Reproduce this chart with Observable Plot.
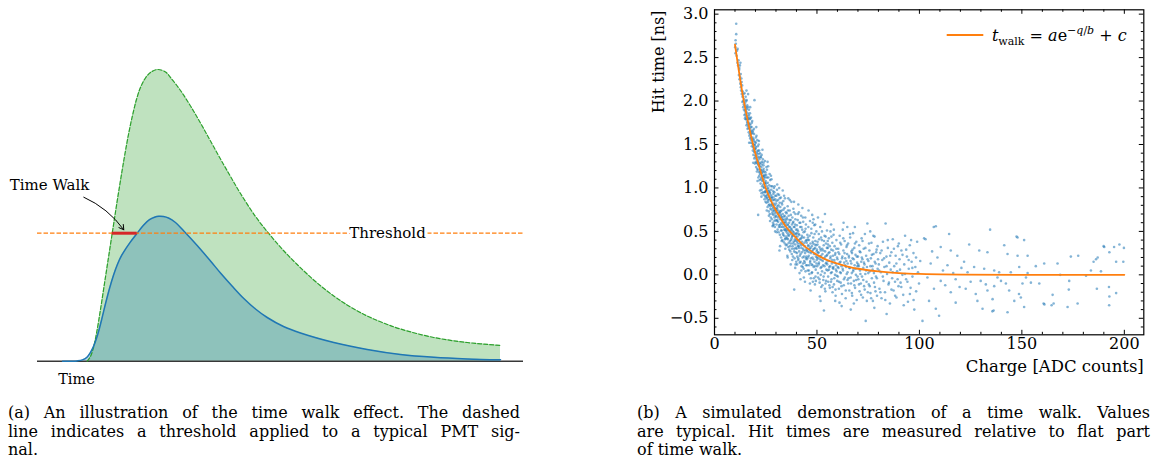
<!DOCTYPE html>
<html>
<head>
<meta charset="utf-8">
<script src="https://cdn.jsdelivr.net/npm/d3@7"></script>
<script src="https://cdn.jsdelivr.net/npm/@observablehq/plot@0.6"></script>
<style>
  html, body { margin: 0; padding: 0; background: #fff; }
  #page { position: relative; width: 1154px; height: 466px; overflow: hidden; font-family: "DejaVu Serif", "Liberation Serif", "DejaVu Sans", sans-serif; color: #000; }
  #left { position: absolute; left: 0; top: 0; }
  #right { position: absolute; left: 630px; top: 0; }
  .cap { position: absolute; font-size: 16px; line-height: 18.7px; }
  .cap div { white-space: nowrap; }
  .cap .j { text-align: justify; text-align-last: justify; }
</style>
</head>
<body>
<div id="page">
  <div id="left"></div>
  <div id="right"></div>
  <div class="cap" style="left:8px; top:404px; width:512px;">
    <div class="j">(a) An illustration of the time walk effect. The dashed</div>
    <div class="j">line indicates a threshold applied to a typical PMT sig-</div>
    <div>nal.</div>
  </div>
  <div class="cap" style="left:637px; top:404px; width:513px;">
    <div class="j">(b) A simulated demonstration of a time walk. Values</div>
    <div class="j">are typical. Hit times are measured relative to flat part</div>
    <div>of time walk.</div>
  </div>
</div>
<script>
// ---------------- Panel (a): illustrative PMT pulses (arbitrary units) ----------------
const largeSignalTime = [49.7, 53, 56, 59, 63, 67, 71, 75, 79, 83, 87, 91, 95, 99, 103, 108, 113, 120.3, 128, 133, 143, 153, 163, 173, 183, 193, 203, 218, 231.3, 246, 259.7, 278, 296.3, 313, 329.7, 346, 363, 396.3, 429.7, 463];
const largeSignalAmp  = [0, 4.7, 13.7, 27.7, 51.7, 77.7, 103.7, 129.7, 155.7, 180.7, 204.7, 226.7, 245.7, 261.7, 273.7, 283.2, 288.7, 291.7, 289.2, 283.7, 270.7, 255.2, 238.2, 220.2, 202.2, 184.7, 167.7, 144.7, 127.7, 110.7, 96.7, 79.7, 65.2, 54.2, 45.2, 38.2, 32.2, 23.7, 18.7, 15.7];
const smallSignalTime = [25, 39.7, 45, 50, 55, 60, 64, 68, 72, 76, 80, 84, 88, 93, 99.7, 106, 112, 117, 121.3, 126, 131, 138, 146.3, 159.7, 173, 183, 195, 206.3, 218, 229.7, 246, 263, 296.3, 329.7, 363, 396.3, 429.7, 463];
const smallSignalAmp  = [0, 0.3, 1.3, 4.5, 12.5, 26, 41, 57.4, 72.7, 86, 97, 105.5, 112, 119.3, 128, 136, 141.5, 144, 145, 144.7, 143.2, 138.7, 130.2, 115.7, 100.2, 88.2, 74.7, 62.7, 52.2, 43.7, 34.7, 28.2, 18.7, 11.7, 6.7, 3.9, 2.3, 1.4];
const thresholdLevel = 128;
const timeWalkStart = 74.7;   // large pulse crosses threshold
const timeWalkEnd = 99.7;     // small pulse crosses threshold
const timeAxisExtent = [0, 486];
const amplitudeExtent = [0, 291.7];
const annotationTimeWalk = { label: "Time Walk", x: -27.7, y: 175.8, arrowFrom: [46.3, 164], arrowTo: [86.3, 131.4] };
const annotationThreshold = { label: "Threshold", x: 350 };
const annotationTime = { label: "Time", x: 39, y: -18.3 };

// ---------------- Panel (b): simulated time walk ----------------
const fitCharge = [10, 12, 14, 16, 18, 20, 22, 25, 28, 30, 35, 40, 45, 50, 55, 60, 65, 70, 80, 90, 100, 120, 150, 200];
const fitTime   = [2.65, 2.33, 2.04, 1.80, 1.58, 1.39, 1.23, 1.00, 0.83, 0.74, 0.55, 0.42, 0.31, 0.23, 0.17, 0.13, 0.095, 0.07, 0.04, 0.02, 0.01, 0.003, 0.0, 0.0];
const xMajorTicks = [0, 50, 100, 150, 200];
const xMinorTicks = [10, 20, 30, 40, 60, 70, 80, 90, 110, 120, 130, 140, 160, 170, 180, 190];
const yMajorTicks = [-0.5, 0, 0.5, 1.0, 1.5, 2.0, 2.5, 3.0];
const yMinorTicks = [-0.6, -0.4, -0.3, -0.2, -0.1, 0.1, 0.2, 0.3, 0.4, 0.6, 0.7, 0.8, 0.9, 1.1, 1.2, 1.3, 1.4, 1.6, 1.7, 1.8, 1.9, 2.1, 2.2, 2.3, 2.4, 2.6, 2.7, 2.8, 2.9];
const xLabel = "Charge [ADC counts]";
const yLabel = "Hit time [ns]";
// hit samples as [charge, time] pairs
const hitPairs = [
 10.1,2.62, 10.2,2.55, 10.3,2.70, 10.4,2.66, 10.6,2.89, 10.6,2.77, 10.8,2.52, 11.0,2.58, 11.2,2.44, 11.3,2.60, 11.5,2.41, 11.7,2.47, 11.9,2.30, 12.1,2.38, 12.2,2.25, 12.4,2.41, 12.6,2.20, 12.8,2.31, 13.0,2.12, 13.1,2.26, 13.3,2.08, 13.5,2.18, 13.6,1.99, 13.8,2.11, 14.0,1.93, 14.1,2.08, 14.3,1.96, 14.5,2.02, 14.6,1.84, 14.8,1.95, 14.9,1.88,
 15.0,1.98, 15.1,1.85, 15.2,2.05, 15.3,1.79, 15.4,1.93, 15.5,1.88, 15.6,1.72, 15.7,2.01, 15.8,1.83, 15.9,1.76, 16.0,1.95, 16.1,1.68, 16.2,1.86, 16.3,1.79, 16.4,2.08, 16.5,1.71, 16.6,1.82, 16.7,1.64, 16.8,1.90, 16.9,1.75, 17.0,1.60, 17.1,1.79, 17.2,1.68, 17.3,1.86, 17.4,1.57, 17.5,1.73, 17.6,1.65, 17.7,1.52, 17.8,1.81, 17.9,1.62, 18.0,1.55, 18.1,1.70, 18.2,1.48, 18.3,1.63, 18.4,1.77, 18.5,1.51, 18.6,1.58, 18.7,1.43, 18.8,1.66, 18.9,1.50, 19.0,1.38, 19.1,1.56, 19.2,1.45, 19.3,1.62, 19.4,1.34, 19.5,2.01, 19.5,1.49, 19.6,1.41, 19.7,1.28, 19.8,1.53, 19.9,1.37, 15.6,2.12, 17.4,1.93, 18.9,1.29, 16.9,1.52,
 20.0,1.45, 20.1,1.30, 20.2,1.52, 20.3,1.24, 20.4,1.38, 20.5,1.60, 20.6,1.33, 20.7,1.19, 20.8,1.42, 20.9,1.28, 21.0,1.36, 21.1,1.48, 21.2,1.21, 21.3,1.30, 21.4,1.12, 21.5,1.39, 21.6,1.26, 21.7,1.54, 21.8,1.18, 21.9,1.33, 22.0,1.09, 22.1,1.25, 22.2,1.40, 22.3,1.16, 22.4,1.29, 22.5,1.05, 22.6,1.21, 22.7,1.35, 22.8,1.12, 22.9,1.24, 23.0,0.98, 23.1,1.17, 23.2,1.30, 23.3,1.08, 23.4,1.44, 23.5,1.13, 23.6,0.95, 23.7,1.20, 23.8,1.04, 23.9,1.26, 24.0,0.92, 24.1,1.10, 24.2,1.00, 24.3,1.19, 24.4,0.87, 24.5,1.05, 24.6,1.31, 24.7,0.96, 24.8,1.12, 24.9,0.84, 20.4,1.70, 21.0,1.08, 22.2,0.97, 23.0,1.38, 24.0,1.22, 20.9,1.55, 21.8,1.43, 22.9,0.90, 24.4,1.15, 23.6,1.33, 21.3,0.69,
 25.0,1.08, 25.1,0.91, 25.2,1.15, 25.3,0.97, 25.4,0.83, 25.5,1.02, 25.6,1.21, 25.7,0.89, 25.8,0.99, 25.9,0.78, 26.0,1.06, 26.1,0.93, 26.2,0.84, 26.3,1.12, 26.4,0.96, 26.5,0.73, 26.6,0.90, 26.7,1.03, 26.8,0.81, 26.9,0.94, 27.0,0.70, 27.1,0.87, 27.2,1.09, 27.3,0.79, 27.4,0.92, 27.5,0.66, 27.6,0.85, 27.7,0.98, 27.8,0.75, 27.9,0.88, 28.0,0.64, 28.1,0.81, 28.2,1.02, 28.3,0.72, 28.4,0.86, 28.5,0.60, 28.6,0.77, 28.7,0.93, 28.8,0.69, 28.9,0.82, 29.0,0.58, 29.1,0.74, 29.2,0.95, 29.3,0.66, 29.4,0.80, 29.5,0.55, 29.6,0.71, 29.7,0.87, 29.8,0.63, 29.9,0.76, 25.5,0.74, 26.2,1.25, 27.1,0.62, 27.8,1.10, 28.4,0.56, 29.0,1.00, 29.6,0.50, 26.9,1.16, 28.8,0.89, 25.9,1.30,
 30.0,0.82, 30.1,0.67, 30.2,0.91, 30.3,0.58, 30.4,0.75, 30.5,0.98, 30.6,0.63, 30.7,0.79, 30.8,0.52, 30.9,0.70, 31.0,0.86, 31.1,0.61, 31.2,0.74, 31.3,0.49, 31.4,0.68, 31.5,0.92, 31.6,0.57, 31.7,0.72, 31.8,0.83, 31.9,0.46, 32.0,0.64, 32.1,0.78, 32.2,0.55, 32.3,0.69, 32.4,0.89, 32.5,0.43, 32.6,0.60, 32.7,0.74, 32.8,0.51, 32.9,0.66, 33.0,0.81, 33.1,0.40, 33.2,0.58, 33.3,0.70, 33.4,0.48, 33.5,0.63, 33.6,0.85, 33.7,0.38, 33.8,0.55, 33.9,0.67, 34.0,0.45, 34.1,0.60, 34.2,0.77, 34.3,0.36, 34.4,0.52, 34.5,0.64, 34.6,0.42, 34.7,0.57, 34.8,0.72, 34.9,0.34, 30.6,1.04, 32.0,0.33, 33.3,0.97, 31.7,0.28, 34.4,0.88,
 35.0,0.60, 35.1,0.44, 35.2,0.71, 35.3,0.51, 35.4,0.35, 35.5,0.64, 35.6,0.48, 35.7,0.79, 35.8,0.41, 35.9,0.57, 36.0,0.32, 36.1,0.52, 36.2,0.68, 36.3,0.45, 36.4,0.60, 36.5,0.29, 36.6,0.50, 36.7,0.74, 36.8,0.39, 36.9,0.55, 37.0,0.27, 37.1,0.47, 37.2,0.63, 37.3,0.36, 37.4,0.53, 37.5,0.84, 37.6,0.42, 37.7,0.24, 37.8,0.58, 37.9,0.44, 38.0,0.66, 38.1,0.33, 38.2,0.50, 38.3,0.21, 38.4,0.46, 38.5,0.61, 38.6,0.38, 38.7,0.55, 38.8,0.84, 38.9,0.30, 39.0,0.47, 39.1,0.19, 39.2,0.41, 39.3,0.58, 39.4,0.35, 39.5,0.70, 39.6,0.26, 39.7,0.44, 39.8,0.52, 39.9,0.15, 36.0,0.88, 37.2,0.12, 38.5,0.76, 39.4,0.08, 35.7,0.20, 38.9,-0.17,
 40.0,0.48, 40.1,0.30, 40.2,0.57, 40.3,0.38, 40.4,0.21, 40.5,0.44, 40.6,0.63, 40.7,0.33, 40.8,0.50, 40.9,0.17, 41.0,0.40, 41.2,0.72, 41.3,0.27, 41.4,0.46, 41.6,0.14, 41.7,0.36, 41.8,0.55, 42.0,0.24, 42.1,0.42, 42.3,0.68, 42.4,0.31, 42.5,0.10, 42.7,0.38, 42.8,0.52, 43.0,0.20, 43.1,0.35, 43.3,0.61, 43.4,0.28, 43.5,0.07, 43.7,0.43, 43.8,0.16, 44.0,0.33, 44.1,0.50, 44.2,0.25, 44.4,0.04, 44.5,0.39, 44.6,0.58, 44.8,0.21, 44.9,0.30, 40.9,0.81, 41.5,0.02, 42.9,0.77, 43.6,-0.03, 44.3,0.66, 40.3,0.12, 41.9,0.60, 42.6,0.45, 43.2,0.13, 44.7,0.11, 41.1,0.33,
 45.0,0.37, 45.1,0.18, 45.3,0.46, 45.4,0.27, 45.5,0.05, 45.7,0.34, 45.8,0.55, 46.0,0.22, 46.1,0.40, 46.3,0.01, 46.4,0.30, 46.6,0.62, 46.7,0.16, 46.8,0.36, 47.0,-0.04, 47.1,0.25, 47.3,0.48, 47.4,0.12, 47.5,0.33, 47.7,0.69, 47.8,0.20, 48.0,-0.08, 48.1,0.29, 48.2,0.43, 48.4,0.09, 48.5,0.24, 48.7,0.57, 48.8,0.15, 49.0,-0.11, 49.1,0.31, 49.2,0.39, 49.4,0.06, 49.5,0.21, 49.7,0.50, 49.8,0.13, 49.9,0.27, 45.9,0.74, 46.9,-0.18, 47.6,0.03, 48.3,0.64, 49.3,-0.02, 46.2,0.11, 48.9,0.35, 45.6,0.43, 47.9,0.38,
 50.0,0.29, 50.1,0.10, 50.3,0.38, 50.4,0.19, 50.6,-0.03, 50.7,0.26, 50.9,0.47, 51.0,0.14, 51.2,0.32, 51.3,-0.09, 51.5,0.21, 51.6,0.55, 51.8,0.08, 51.9,0.28, 52.1,-0.14, 52.2,0.17, 52.4,0.40, 52.5,0.04, 52.7,0.24, 52.8,0.61, 53.0,0.11, 53.1,-0.06, 53.3,0.34, 53.4,-0.41, 53.5,0.19, 53.7,0.45, 53.8,0.02, 54.0,0.27, 54.1,-0.19, 54.3,0.13, 54.4,0.36, 54.6,0.06, 54.7,0.22, 54.9,0.51, 50.5,0.66, 51.4,-0.25, 52.6,0.30, 53.9,0.70, 54.2,-0.10, 52.0,0.43,
 55.0,0.23, 55.2,0.05, 55.3,0.31, 55.5,-0.08, 55.6,0.16, 55.8,0.42, 56.0,0.09, 56.1,0.26, 56.3,-0.15, 56.5,0.19, 56.6,0.50, 56.8,0.02, 57.0,0.29, 57.1,-0.05, 57.3,0.13, 57.5,0.37, 57.6,-0.20, 57.8,0.22, 58.0,0.07, 58.1,0.46, 58.3,-0.11, 58.5,0.17, 58.6,0.33, 58.8,0.00, 59.0,0.25, 59.1,-0.24, 59.3,0.11, 59.5,0.40, 59.6,0.04, 59.8,0.20, 59.9,-0.07, 56.9,0.58, 58.9,-0.30, 55.4,0.35, 57.7,0.08,
 60.0,0.18, 60.2,-0.02, 60.4,0.30, 60.5,0.08, 60.7,-0.16, 60.9,0.24, 61.1,0.45, 61.3,0.03, 61.5,0.15, 61.6,-0.09, 61.8,0.35, 62.0,0.10, 62.2,-0.22, 62.4,0.21, 62.6,0.52, 62.7,0.05, 62.9,0.28, 63.1,-0.12, 63.3,0.14, 63.5,0.39, 63.6,-0.03, 63.8,0.19, 64.0,-0.27, 64.2,0.09, 64.4,0.32, 64.5,0.01, 64.7,0.24, 64.9,-0.06, 61.0,-0.32, 63.0,0.60,
 65.0,0.13, 65.2,0.36, 65.4,-0.04, 65.6,0.20, 65.8,-0.18, 66.0,0.08, 66.2,0.43, 66.4,0.16, 66.6,-0.10, 66.8,0.27, 67.0,0.02, 67.2,-0.24, 67.4,0.19, 67.6,0.48, 67.8,0.06, 68.0,-0.07, 68.2,0.31, 68.4,0.11, 68.6,-0.15, 68.8,0.23, 69.0,0.00, 69.2,0.38, 69.4,-0.29, 69.6,0.14, 69.8,-0.02, 66.5,-0.40, 68.5,0.55, 67.1,0.25,
 70.0,0.21, 70.2,-0.05, 70.4,0.10, 70.6,0.34, 70.8,-0.19, 71.0,0.05, 71.2,0.26, 71.4,-0.10, 71.6,0.15, 71.8,0.42, 72.0,-0.02, 72.2,0.18, 72.4,-0.26, 72.6,0.08, 72.8,0.30, 73.0,-0.13, 73.2,0.12, 73.4,0.47, 73.6,0.01, 73.8,-0.53, 74.0,0.22, 74.2,-0.08, 74.4,0.09, 74.6,0.59, 74.8,-0.20,
 75.1,0.16, 75.3,-0.11, 75.6,0.28, 75.8,0.04, 76.1,-0.21, 76.3,0.19, 76.6,0.37, 76.8,-0.04, 77.1,0.10, 77.3,-0.30, 77.6,0.24, 77.8,0.02, 78.1,0.44, 78.3,-0.14, 78.6,0.13, 78.8,-0.02, 79.1,0.29, 79.3,-0.24, 79.6,0.07, 79.8,0.18, 76.0,0.50, 78.0,-0.38,
 80.2,0.12, 80.5,-0.16, 80.9,0.25, 81.2,0.03, 81.5,-0.27, 81.9,0.17, 82.2,0.38, 82.5,-0.07, 82.9,0.09, 83.2,-0.20, 83.5,0.59, 83.9,0.21, 84.0,-0.45, 84.2,0.01, 84.6,0.31, 84.9,-0.11, 85.3,0.14, 85.6,-0.33, 86.0,0.06, 86.3,0.26, 86.7,-0.04, 87.0,0.41, 87.4,-0.18, 87.7,0.10, 88.1,-0.08, 88.4,0.22, 88.8,-0.26, 89.1,0.04, 89.5,0.33, 89.8,-0.13,
 90.3,0.18, 90.8,-0.09, 91.2,0.28, 91.7,0.00, 92.1,-0.23, 92.6,0.12, 93.0,0.45, 93.5,-0.05, 93.9,0.21, 94.4,-0.31, 94.8,0.07, 95.3,0.34, 95.7,-0.15, 96.2,0.15, 96.6,-0.02, 97.1,0.25, 97.5,-0.40, 98.0,0.09, 98.4,-0.19, 98.9,0.38, 99.3,0.03, 99.8,-0.10,
 100.4,0.16, 101.5,-0.53, 102.3,0.42, 103.0,0.41, 103.9,-0.03, 104.7,-0.30, 105.5,0.13, 106.2,0.27, 107.0,0.55, 107.1,-0.16, 108.0,-0.39, 108.0,0.56, 108.8,0.20, 109.6,-0.47, 110.4,0.32, 110.4,-0.07, 111.5,0.05, 112.6,-0.12, 113.7,0.11, 114.5,0.47, 115.3,0.28, 115.3,-0.20, 116.5,0.02, 117.7,-0.05, 117.7,-0.32, 118.5,0.22, 119.6,-0.14, 120.5,0.08, 121.8,0.15, 122.6,-0.16, 123.5,0.03, 124.3,0.35, 125.0,-0.08, 126.7,0.09, 127.5,-0.22, 128.3,-0.30, 129.2,0.28, 129.9,-0.07, 130.8,-0.39, 131.6,0.07, 132.4,-0.11, 133.2,0.26, 133.2,-0.18, 134.5,0.52,
 135.6,-0.42, 135.7,-0.28, 136.2,-0.41, 136.5,0.05, 136.5,-0.13, 138.1,-0.03, 138.9,0.03, 139.8,-0.07, 141.4,0.34, 142.2,-0.10, 143.0,0.24, 143.0,-0.43, 143.8,-0.18, 144.6,0.03, 146.3,-0.30, 147.4,0.44, 147.9,0.43, 147.9,0.22, 148.6,-0.22, 148.7,0.09, 149.5,-0.26, 150.3,-0.10, 151.1,0.40, 151.1,-0.37, 152.0,-0.03, 152.8,0.22, 152.8,0.02, 154.4,-0.09, 156.8,0.10, 158.5,-0.10, 160.6,-0.33, 160.9,0.13, 161.0,-0.34, 164.5,-0.35, 165.0,-0.23, 165.5,-0.33, 167.4,0.13, 168.7,0.00, 172.3,-0.37, 172.9,-0.17, 173.1,-0.07, 173.9,0.21, 177.2,-0.33, 177.5,0.22, 181.3,-0.01, 183.7,0.05, 185.0,0.15, 186.2,0.18, 186.6,-0.16, 187.0,0.20, 188.6,0.04, 189.9,0.33, 190.2,0.32, 192.5,-0.14, 192.6,-0.35, 192.7,0.26, 192.7,-0.25, 195.0,0.32, 196.0,0.15, 196.0,-0.21, 197.6,0.35, 199.5,0.15, 199.8,0.31
];
// second pass over the dense band (charge 12–100)
const hitPairsDense = [
 12.05,2.36, 12.45,2.28, 12.85,2.16, 13.25,2.22, 13.65,2.05, 14.05,2.00, 14.35,1.90, 14.65,2.09, 14.85,1.80, 12.65,2.44,
 15.05,1.90, 15.25,1.82, 15.45,2.00, 15.65,1.79, 15.85,1.91, 16.05,1.74, 16.25,1.93, 16.45,1.80, 16.65,1.69, 16.85,1.84, 17.05,1.73, 17.25,1.62, 17.45,1.80, 17.65,1.70, 17.85,1.58, 18.05,1.66, 18.25,1.75, 18.45,1.56, 18.65,1.64, 18.85,1.47, 19.05,1.54, 19.25,1.68, 19.45,1.42, 19.65,1.50, 19.85,1.45,
 20.05,1.35, 20.25,1.47, 20.45,1.29, 20.65,1.40, 20.85,1.22, 21.05,1.31, 21.25,1.43, 21.45,1.27, 21.65,1.35, 21.85,1.14, 22.05,1.28, 22.25,1.19, 22.45,1.36, 22.65,1.10, 22.85,1.20, 23.05,1.27, 23.25,1.02, 23.45,1.18, 23.65,1.09, 23.85,1.14, 24.05,1.01, 24.25,1.13, 24.45,0.95, 24.65,1.06, 24.85,1.18, 20.15,1.58, 21.55,1.50, 22.95,0.94, 23.95,1.29, 24.75,0.90,
 25.05,0.95, 25.25,1.05, 25.45,0.88, 25.65,1.12, 25.85,0.92, 26.05,0.86, 26.25,1.00, 26.45,0.80, 26.65,0.97, 26.85,0.87, 27.05,0.95, 27.25,0.76, 27.45,0.89, 27.65,1.02, 27.85,0.81, 28.05,0.90, 28.25,0.70, 28.45,0.79, 28.65,0.96, 28.85,0.74, 29.05,0.86, 29.25,0.62, 29.45,0.77, 29.65,0.91, 29.85,0.68, 25.35,1.24, 26.55,0.68, 27.55,1.14, 28.55,0.57, 29.35,1.02,
 30.05,0.73, 30.25,0.85, 30.45,0.62, 30.65,0.77, 30.85,0.93, 31.05,0.66, 31.25,0.80, 31.45,0.55, 31.65,0.71, 31.85,0.88, 32.05,0.58, 32.25,0.73, 32.45,0.51, 32.65,0.67, 32.85,0.83, 33.05,0.55, 33.25,0.64, 33.45,0.46, 33.65,0.75, 33.85,0.60, 34.05,0.52, 34.25,0.68, 34.45,0.41, 34.65,0.62, 34.85,0.50, 30.35,0.49, 31.55,1.00, 32.75,0.39, 33.95,0.91, 34.55,0.30,
 35.05,0.53, 35.25,0.66, 35.45,0.42, 35.65,0.58, 35.85,0.74, 36.05,0.46, 36.25,0.37, 36.45,0.55, 36.65,0.63, 36.85,0.33, 37.05,0.50, 37.25,0.69, 37.45,0.40, 37.65,0.52, 37.85,0.30, 38.05,0.45, 38.25,0.60, 38.45,0.36, 38.65,0.49, 38.85,0.27, 39.05,0.55, 39.25,0.39, 39.45,0.64, 39.65,0.31, 39.85,0.47, 35.55,0.22, 36.75,0.86, 37.95,0.17, 38.75,0.72, 39.55,0.12,
 40.05,0.40, 40.25,0.25, 40.45,0.52, 40.65,0.36, 40.85,0.19, 41.05,0.47, 41.25,0.31, 41.45,0.60, 41.65,0.22, 41.85,0.41, 42.05,0.15, 42.25,0.34, 42.45,0.55, 42.65,0.26, 42.85,0.43, 43.05,0.09, 43.25,0.30, 43.45,0.49, 43.65,0.21, 43.85,0.37, 44.05,0.14, 44.25,0.28, 44.45,0.53, 44.65,0.19, 44.85,0.40, 40.75,0.70, 41.95,-0.05, 43.15,0.66, 44.15,-0.08, 42.35,0.05,
 45.05,0.28, 45.25,0.11, 45.45,0.40, 45.65,0.20, 45.85,0.33, 46.05,0.05, 46.25,0.26, 46.45,0.45, 46.65,0.14, 46.85,0.31, 47.05,0.19, 47.25,0.53, 47.45,0.02, 47.65,0.27, 47.85,0.11, 48.05,0.36, 48.25,0.18, 48.45,-0.04, 48.65,0.30, 48.85,0.47, 49.05,0.10, 49.25,0.24, 49.45,-0.07, 49.65,0.34, 49.85,0.17, 46.55,-0.10, 47.95,0.60, 49.15,0.58,
 50.05,0.20, 50.25,0.35, 50.45,0.02, 50.65,0.25, 50.85,0.12, 51.05,0.41, 51.25,-0.05, 51.45,0.18, 51.65,0.30, 51.85,0.00, 52.05,0.22, 52.25,0.09, 52.45,0.50, 52.65,-0.12, 52.85,0.16, 53.05,0.28, 53.25,-0.02, 53.45,0.39, 53.65,0.10, 53.85,-0.16, 54.05,0.21, 54.25,0.44, 54.45,-0.07, 54.65,0.14, 54.85,0.31, 51.75,-0.30,
 55.05,0.12, 55.25,0.39, 55.45,-0.02, 55.65,0.25, 55.85,0.06, 56.05,-0.12, 56.25,0.33, 56.45,0.10, 56.65,0.21, 56.85,-0.08, 57.05,0.44, 57.25,0.03, 57.45,0.17, 57.65,-0.14, 57.85,0.28, 58.05,0.09, 58.25,0.52, 58.45,-0.04, 58.65,0.14, 58.85,0.23, 59.05,-0.17, 59.25,0.06, 59.45,0.30, 59.65,-0.01,
 60.15,0.09, 60.45,0.26, 60.75,-0.08, 61.05,0.14, 61.35,0.37, 61.65,0.02, 61.95,-0.13, 62.25,0.19, 62.55,0.07, 62.85,0.42, 63.15,-0.05, 63.45,0.25, 63.75,0.11, 64.05,-0.18, 64.35,0.16, 64.65,0.34, 64.95,0.03, 65.25,-0.10, 65.55,0.22, 65.85,0.08, 66.15,0.47, 66.45,-0.03, 66.75,0.13, 67.05,-0.21, 67.35,0.29, 67.65,0.04, 67.95,0.18, 68.25,-0.12, 68.55,0.36, 68.85,0.07, 69.15,-0.06, 69.45,0.21, 69.75,0.10, 62.05,-0.36, 64.8,0.55, 68.0,-0.33,
 70.15,0.12, 70.5,-0.11, 70.85,0.27, 71.2,0.01, 71.55,-0.23, 71.9,0.20, 72.25,0.39, 72.6,-0.06, 72.95,0.14, 73.3,-0.17, 73.65,0.31, 74.0,0.05, 74.35,-0.30, 74.7,0.18, 75.05,0.02, 75.4,0.36, 75.75,-0.13, 76.1,0.10, 76.45,-0.27, 76.8,0.23, 77.15,0.06, 77.5,0.45, 77.85,-0.09, 78.2,0.15, 78.55,-0.19, 78.9,0.26, 79.25,-0.04, 79.6,0.33,
 80.35,0.05, 80.95,-0.20, 81.55,0.28, 82.15,-0.02, 82.75,0.19, 83.35,-0.29, 83.95,0.10, 84.55,0.40, 85.15,-0.09, 85.75,0.22, 86.35,-0.17, 86.95,0.03, 87.55,0.30, 88.15,-0.24, 88.75,0.13, 89.35,-0.05, 89.95,0.36, 90.55,0.06, 91.15,-0.14, 91.75,0.23, 92.35,-0.35, 92.95,0.01, 93.55,0.29, 94.15,-0.08, 94.75,0.17, 95.35,-0.22, 95.95,0.40, 96.55,0.08, 97.15,-0.29, 98.35,0.20
];

// pick the first installed serif face (CM-like look); fall back to DejaVu Sans
function pickFont(candidates, fallback) {
  const ctx = document.createElement("canvas").getContext("2d");
  const probe = "HamburgefonstivQW 0123456789 [ADC]";
  for (const f of candidates) {
    for (const base of ["monospace", "cursive"]) {
      ctx.font = `40px ${base}`;
      const w0 = ctx.measureText(probe).width;
      ctx.font = `40px "${f}", ${base}`;
      const w1 = ctx.measureText(probe).width;
      if (Math.abs(w0 - w1) > 0.5) return f;
    }
  }
  return fallback;
}
const fontName = pickFont(["DejaVu Serif", "Liberation Serif", "Tinos", "Times New Roman", "FreeSerif", "Nimbus Roman", "Noto Serif", "Times"], "DejaVu Sans");
const serif = `"${fontName}", "DejaVu Sans", sans-serif`;
document.getElementById("page").style.fontFamily = serif;

// ---------- panel (a) ----------
const large = largeSignalTime.map((t, i) => ({ t, a: largeSignalAmp[i] }));
const small = smallSignalTime.map((t, i) => ({ t, a: smallSignalAmp[i] }));

const leftPlot = Plot.plot({
  width: 540, height: 395, margin: 0,
  x: { domain: timeAxisExtent, range: [37, 523], axis: null },
  y: { domain: amplitudeExtent, range: [360.7, 69], axis: null },
  style: { fontFamily: serif, fontSize: "15px", background: "transparent", overflow: "visible" },
  marks: [
    Plot.areaY(large, { x: "t", y: "a", curve: "catmull-rom", fill: "#2ca02c", fillOpacity: 0.3 }),
    Plot.areaY(small, { x: "t", y: "a", curve: "catmull-rom", fill: "#1f77b4", fillOpacity: 0.3 }),
    Plot.ruleY([0], { x1: timeAxisExtent[0], x2: timeAxisExtent[1], stroke: "#383838", strokeWidth: 1.6 }),
    Plot.line(large, { x: "t", y: "a", curve: "catmull-rom", stroke: "#2ca02c", strokeWidth: 1.2, strokeDasharray: "4,2" }),
    Plot.line(small, { x: "t", y: "a", curve: "catmull-rom", stroke: "#1f77b4", strokeWidth: 1.5 }),
    Plot.ruleY([thresholdLevel], { x1: timeAxisExtent[0], x2: timeAxisExtent[1], stroke: "#ff7f0e", strokeWidth: 1.3, strokeDasharray: "4.5,2" }),
    Plot.ruleY([thresholdLevel], { x1: timeWalkStart, x2: timeWalkEnd, stroke: "#d62728", strokeWidth: 3 }),
    Plot.text([annotationThreshold.label], { x: annotationThreshold.x, y: thresholdLevel, fill: "black", stroke: "white", strokeWidth: 7 }),
    Plot.text([annotationTimeWalk.label], { x: annotationTimeWalk.x, y: annotationTimeWalk.y, textAnchor: "start", fill: "black" }),
    Plot.arrow([annotationTimeWalk], {
      x1: d => d.arrowFrom[0], y1: d => d.arrowFrom[1], x2: d => d.arrowTo[0], y2: d => d.arrowTo[1],
      bend: 15, stroke: "black", strokeWidth: 1, headLength: 8
    }),
    Plot.text([annotationTime.label], { x: annotationTime.x, y: annotationTime.y, fontSize: 14.5, fill: "black" })
  ]
});
document.getElementById("left").append(leftPlot);

// ---------- panel (b) ----------
const hits = [];
for (const arr of [hitPairs, hitPairsDense]) {
  for (let i = 0; i < arr.length; i += 2) hits.push({ q: arr[i], t: arr[i + 1] });
}
const fit = fitCharge.map((q, i) => ({ q, t: fitTime[i] }));

const W = 524, H = 390, mL = 84, mR = 10.7, mT = 9.3, mB = 55.7;
const innerW = W - mL - mR, innerH = H - mT - mB;
const fmtY = d => (d < 0 ? "\u2212" : "") + Math.abs(d).toFixed(1);

function fitLegend(index, scales, values, dimensions) {
  const xr = dimensions.width - dimensions.marginRight;
  const g = d3.create("svg:g");
  g.append("line")
    .attr("x1", xr - 196.6).attr("x2", xr - 160).attr("y1", 35).attr("y2", 35)
    .attr("stroke", "#ff7f0e").attr("stroke-width", 1.8);
  const t = g.append("text")
    .attr("x", xr - 16.6).attr("y", 41).attr("text-anchor", "end")
    .attr("font-size", 16).attr("fill", "black").style("white-space", "pre");
  t.append("tspan").attr("font-style", "italic").text("t");
  t.append("tspan").attr("font-size", 11).attr("dy", 4).text("walk");
  t.append("tspan").attr("dy", -4).text(" = ");
  t.append("tspan").attr("font-style", "italic").text("a");
  t.append("tspan").text("e");
  t.append("tspan").attr("font-size", 11).attr("dy", -7).text("\u2212");
  t.append("tspan").attr("font-size", 11).attr("font-style", "italic").text("q");
  t.append("tspan").attr("font-size", 11).text("/");
  t.append("tspan").attr("font-size", 11).attr("font-style", "italic").text("b");
  t.append("tspan").attr("dy", 7).text(" + ");
  t.append("tspan").attr("font-style", "italic").text("c");
  return g.node();
}

const rightPlot = Plot.plot({
  width: W, height: H, marginLeft: mL, marginRight: mR, marginTop: mT, marginBottom: mB,
  x: { domain: [0, 209.5], axis: null },
  y: { domain: [-0.69, 3.05], axis: null },
  style: { fontFamily: serif, fontSize: "16px", background: "transparent", overflow: "visible" },
  marks: [
    Plot.dot(hits, { x: "q", y: "t", r: 1.3, fill: "#1f77b4", fillOpacity: 0.55, stroke: null }),
    Plot.line(fit, { x: "q", y: "t", curve: "catmull-rom", stroke: "#ff7f0e", strokeWidth: 1.8 }),
    Plot.frame({ stroke: "black", strokeWidth: 1.2 }),
    Plot.tickX(xMajorTicks, { x: d => d, insetTop: innerH - 4.5, stroke: "black" }),
    Plot.tickX(xMajorTicks, { x: d => d, insetBottom: innerH - 4.5, stroke: "black" }),
    Plot.tickX(xMinorTicks, { x: d => d, insetTop: innerH - 2.5, stroke: "black" }),
    Plot.tickX(xMinorTicks, { x: d => d, insetBottom: innerH - 2.5, stroke: "black" }),
    Plot.tickY(yMajorTicks, { y: d => d, insetRight: innerW - 4.5, stroke: "black" }),
    Plot.tickY(yMajorTicks, { y: d => d, insetLeft: innerW - 4.5, stroke: "black" }),
    Plot.tickY(yMinorTicks, { y: d => d, insetRight: innerW - 2.5, stroke: "black" }),
    Plot.tickY(yMinorTicks, { y: d => d, insetLeft: innerW - 2.5, stroke: "black" }),
    Plot.text(xMajorTicks, { x: d => d, frameAnchor: "bottom", dy: 14, text: d => String(d), fill: "black" }),
    Plot.text(yMajorTicks, { y: d => d, frameAnchor: "left", dx: -6, textAnchor: "end", text: fmtY, fill: "black" }),
    Plot.text([yLabel], { frameAnchor: "top-left", dx: -62.3, dy: 0.7, rotate: -90, textAnchor: "end", fill: "black" }),
    Plot.text([xLabel], { frameAnchor: "bottom-right", dy: 36.7, textAnchor: "end", fontSize: 16.5, fill: "black" }),
    fitLegend
  ]
});
document.getElementById("right").append(rightPlot);
</script>
</body>
</html>
